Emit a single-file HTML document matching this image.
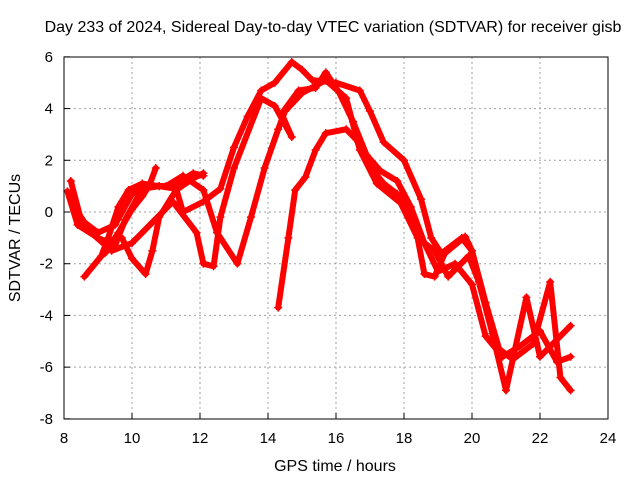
<!DOCTYPE html>
<html><head><meta charset="utf-8"><style>
body{margin:0;background:#fff}
svg text{font-family:"Liberation Sans",sans-serif;font-size:15px;fill:#000}
svg text.big{font-size:16px}
</style></head><body>
<svg id="chart" width="640" height="480" viewBox="0 0 640 480">
<text class="big" x="333" y="32" text-anchor="middle">Day 233 of 2024, Sidereal Day-to-day VTEC variation (SDTVAR) for receiver gisb</text>
<text class="big" x="335" y="471" text-anchor="middle">GPS time / hours</text>
<text class="big" transform="translate(20,238) rotate(-90)" text-anchor="middle">SDTVAR / TECUs</text>
<g id="grid"></g>
<g id="ticks"></g>
<g id="series"></g>
<rect x="64" y="57" width="544" height="362" fill="none" stroke="#000" stroke-width="1"/>
</svg>
<script>
const xTicks=[8,10,12,14,16,18,20,22,24];
const yTicks=[-8,-6,-4,-2,0,2,4,6];
const trackA_t=[8.1,8.4,9.0,9.5,9.8,10.3,10.8,11.3,11.5,12.1,12.6,13.0,13.4,13.8,14.2,14.7,15.0,15.3,16.0,16.7,17.0,17.4,18.0,18.5,18.8,19.1,19.7,20.0,20.4,20.8,21.2,21.8,22.3,22.6,22.9];
const trackA_v=[0.8,-0.5,-1.0,-1.3,-0.3,0.9,1.0,0.9,0.0,0.4,0.9,2.5,3.7,4.7,5.0,5.8,5.5,5.1,5.0,4.7,3.9,2.7,2.0,0.5,-1.0,-1.6,-1.0,-1.5,-3.5,-5.3,-5.7,-5.1,-2.7,-6.4,-6.9];
const trackB_t=[8.2,8.5,9.0,9.5,10.0,10.5,11.0,11.5,12.1,12.5,13.1,13.5,13.9,14.3,14.5,15.0,15.7,16.3,16.7,17.2,17.9,18.4,18.9,19.3,19.9,20.2,20.6,21.0,21.6,22.0,22.9];
const trackB_v=[1.2,-0.3,-0.8,-0.5,0.7,1.0,1.0,1.4,0.85,-0.8,-2.0,-0.2,1.7,3.2,3.9,4.6,5.1,4.4,2.4,1.1,0.35,-1.0,-1.5,-2.5,-1.7,-2.7,-4.7,-6.9,-3.3,-5.6,-4.4];
const trackC_t=[8.3,8.8,9.4,10.0,10.6,11.2,11.9,12.1,12.4,12.6,13.0,13.8,14.2,14.7,14.4,14.9,15.4,15.7,16.1,16.5,16.9,17.3,17.8,18.2,18.6,19.0,19.5,20.0,20.4,20.9,21.4,22.0,22.5,22.9];
const trackC_v=[0.2,-0.8,-1.5,-1.2,-0.4,0.4,-0.8,-2.0,-2.1,-0.2,1.7,4.4,4.1,2.9,3.8,4.7,4.8,5.4,4.6,3.5,2.2,1.6,1.2,0.2,-1.2,-2.3,-2.0,-2.8,-4.8,-5.6,-5.2,-4.6,-5.8,-5.6];
const trackD_t=[14.3,14.6,14.8,15.1,15.4,15.7,16.3,16.6,17.0,17.4,17.8,18.3,18.6,18.9,19.2,19.8,20.0];
const trackD_v=[-3.7,-1.0,0.85,1.35,2.4,3.05,3.2,2.8,1.75,1.1,0.7,-0.3,-2.4,-2.5,-1.6,-0.95,-1.5];
const trackE_t=[8.6,9.1,9.3,9.6,9.9,10.3,10.8,11.2,11.8,12.1];
const trackE_v=[-2.5,-1.7,-1.0,0.2,0.85,1.1,1.0,1.0,1.5,1.4];
const trackF_t=[9.7,10.0,10.4,10.6,10.8,11.3,11.8,12.1];
const trackF_v=[-1.0,-1.8,-2.4,-1.5,-0.2,0.85,1.3,1.5];
const trackG_t=[9.2,9.6,10.0,10.3,10.5,10.7];
const trackG_v=[-1.6,-0.8,0.1,0.6,1.0,1.7];
const tracks=[[trackA_t,trackA_v],[trackB_t,trackB_v],[trackC_t,trackC_v],[trackD_t,trackD_v],[trackE_t,trackE_v],[trackF_t,trackF_v],[trackG_t,trackG_v]];

const X=t=>64+(t-8)*34;
const Y=v=>212-v*25.857;
const NS='http://www.w3.org/2000/svg';
function mk(tag,attrs,parent){const e=document.createElementNS(NS,tag);for(const k in attrs)e.setAttribute(k,attrs[k]);parent.appendChild(e);return e;}
const grid=document.getElementById('grid'),ticks=document.getElementById('ticks'),ser=document.getElementById('series');
xTicks.forEach(t=>{
  if(t>8&&t<24){const g=mk('line',{x1:X(t),x2:X(t),y1:57,y2:419,stroke:'#a0a0a0','stroke-dasharray':'2,3'},grid);
  
  }
  const k=mk('line',{x1:X(t),x2:X(t),y1:419,y2:413,stroke:'#000'},ticks);
  
  
  const l=mk('text',{x:X(t),y:443,'text-anchor':'middle'},ticks);l.textContent=t;
  
  
});
yTicks.forEach(v=>{
  if(v>-8&&v<6){const g=mk('line',{x1:64,x2:608,y1:Y(v),y2:Y(v),stroke:'#a0a0a0','stroke-dasharray':'2,3'},grid);
  
  }
  const k=mk('line',{x1:64,x2:70,y1:Y(v),y2:Y(v),stroke:'#000'},ticks);
  
  
  const l=mk('text',{x:53,y:Y(v)+5,'text-anchor':'end'},ticks);l.textContent=v;
  
  
});
tracks.forEach((tr,i)=>{
  const [ts,vs]=tr;
  const pts=ts.map((t,j)=>X(t)+','+Y(vs[j])).join(' ');
  const pl=mk('polyline',{points:pts,fill:'none',stroke:'#ff0000','stroke-width':6,'stroke-linejoin':'round','stroke-linecap':'round'},ser);
  
  
  ts.forEach((t,j)=>{
    const x=X(t),y=Y(vs[j]);
    const m=mk('path',{d:`M${x-4},${y}H${x+4}M${x},${y-4}V${y+4}`,stroke:'#ff0000','stroke-width':1.5},ser);
    
    
  });
});
</script>
</body></html>
